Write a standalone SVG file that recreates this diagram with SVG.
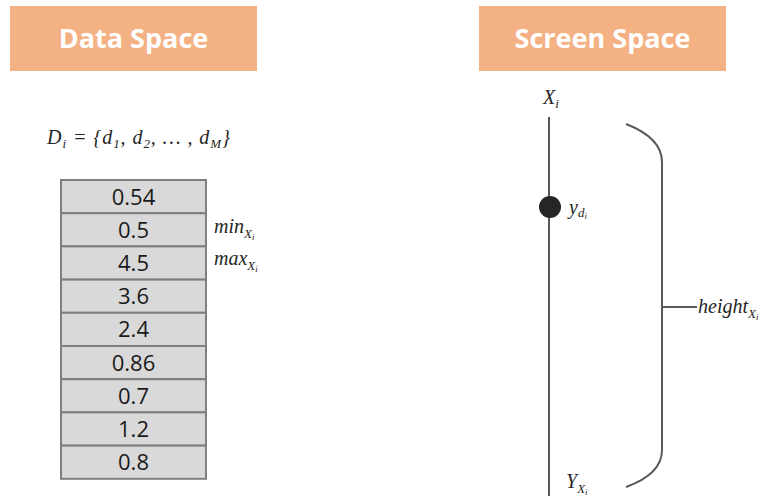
<svg xmlns="http://www.w3.org/2000/svg" width="781" height="500" viewBox="0 0 781 500">
<style>
.hdr{fill:#F4B183}
.hdrt{font-family:"Open Sans","Liberation Sans",sans-serif;font-weight:bold;font-size:27px;fill:#ffffff;text-anchor:middle}
.cell{fill:#D9D9D9;stroke:#7F7F7F;stroke-width:2}
.val{font-family:"Open Sans","Liberation Sans",sans-serif;font-size:22px;fill:#1a1a1a;text-anchor:middle}
.m{font-family:"Liberation Serif","DejaVu Serif",serif;font-style:italic;font-size:20px;fill:#262626}
.sub{font-size:13px}
.ss{font-size:9px}
.ln{stroke:#595959;stroke-width:2;fill:none}
</style>
<g id="data-space-header"><rect class="hdr" x="10" y="6" width="247" height="65"/><text class="hdrt" x="133.5" y="48">Data Space</text></g>
<g id="screen-space-header"><rect class="hdr" x="479" y="6" width="247" height="65"/><text class="hdrt" x="602.5" y="48">Screen Space</text></g>
<g id="formula"><text class="m" x="47" y="144" textLength="183">D<tspan class="sub" dy="4">i</tspan><tspan dy="-4"> = {d</tspan><tspan class="sub" dy="4">1</tspan><tspan dy="-4">, d</tspan><tspan class="sub" dy="4">2</tspan><tspan dy="-4">, … , d</tspan><tspan class="sub" dy="4">M</tspan><tspan dy="-4">}</tspan></text></g>
<g id="table">
<rect class="cell" x="61" y="180" width="145" height="33.2"/><text class="val" x="133.5" y="205">0.54</text>
<rect class="cell" x="61" y="213.2" width="145" height="33.2"/><text class="val" x="133.5" y="238">0.5</text>
<rect class="cell" x="61" y="246.4" width="145" height="33.2"/><text class="val" x="133.5" y="271">4.5</text>
<rect class="cell" x="61" y="279.6" width="145" height="33.2"/><text class="val" x="133.5" y="304">3.6</text>
<rect class="cell" x="61" y="312.8" width="145" height="33.2"/><text class="val" x="133.5" y="337">2.4</text>
<rect class="cell" x="61" y="346" width="145" height="33.2"/><text class="val" x="133.5" y="371">0.86</text>
<rect class="cell" x="61" y="379.2" width="145" height="33.2"/><text class="val" x="133.5" y="404">0.7</text>
<rect class="cell" x="61" y="412.4" width="145" height="33.2"/><text class="val" x="133.5" y="437">1.2</text>
<rect class="cell" x="61" y="445.6" width="145" height="33.2"/><text class="val" x="133.5" y="470">0.8</text>
</g>
<g id="min-label"><text class="m" x="214" y="233">min<tspan class="sub" dy="5">X</tspan><tspan class="ss" dy="2">i</tspan></text></g>
<g id="max-label"><text class="m" x="214" y="265">max<tspan class="sub" dy="5">X</tspan><tspan class="ss" dy="2">i</tspan></text></g>
<g id="connectors">
<line class="ln" x1="549" y1="117" x2="549" y2="496"/>
<path class="ln" d="M626,124 Q662,138 662,162 L662,450 Q662,474 626,487"/>
<line class="ln" x1="662" y1="307" x2="697" y2="307"/>
</g>
<g id="axis-top"><text class="m" x="543" y="104">X<tspan class="sub" dy="4">i</tspan></text></g>
<g id="point"><circle cx="550" cy="207" r="11" fill="#262626"/><text class="m" x="569" y="214">y<tspan class="sub" dy="3">d</tspan><tspan class="ss" dy="2">i</tspan></text></g>
<g id="axis-bottom"><text class="m" x="566" y="488">Y<tspan class="sub" dy="5">X</tspan><tspan class="ss" dy="2">i</tspan></text></g>
<g id="height-label"><text class="m" x="698" y="313">height<tspan class="sub" dy="5">X</tspan><tspan class="ss" dy="2">i</tspan></text></g>
</svg>
